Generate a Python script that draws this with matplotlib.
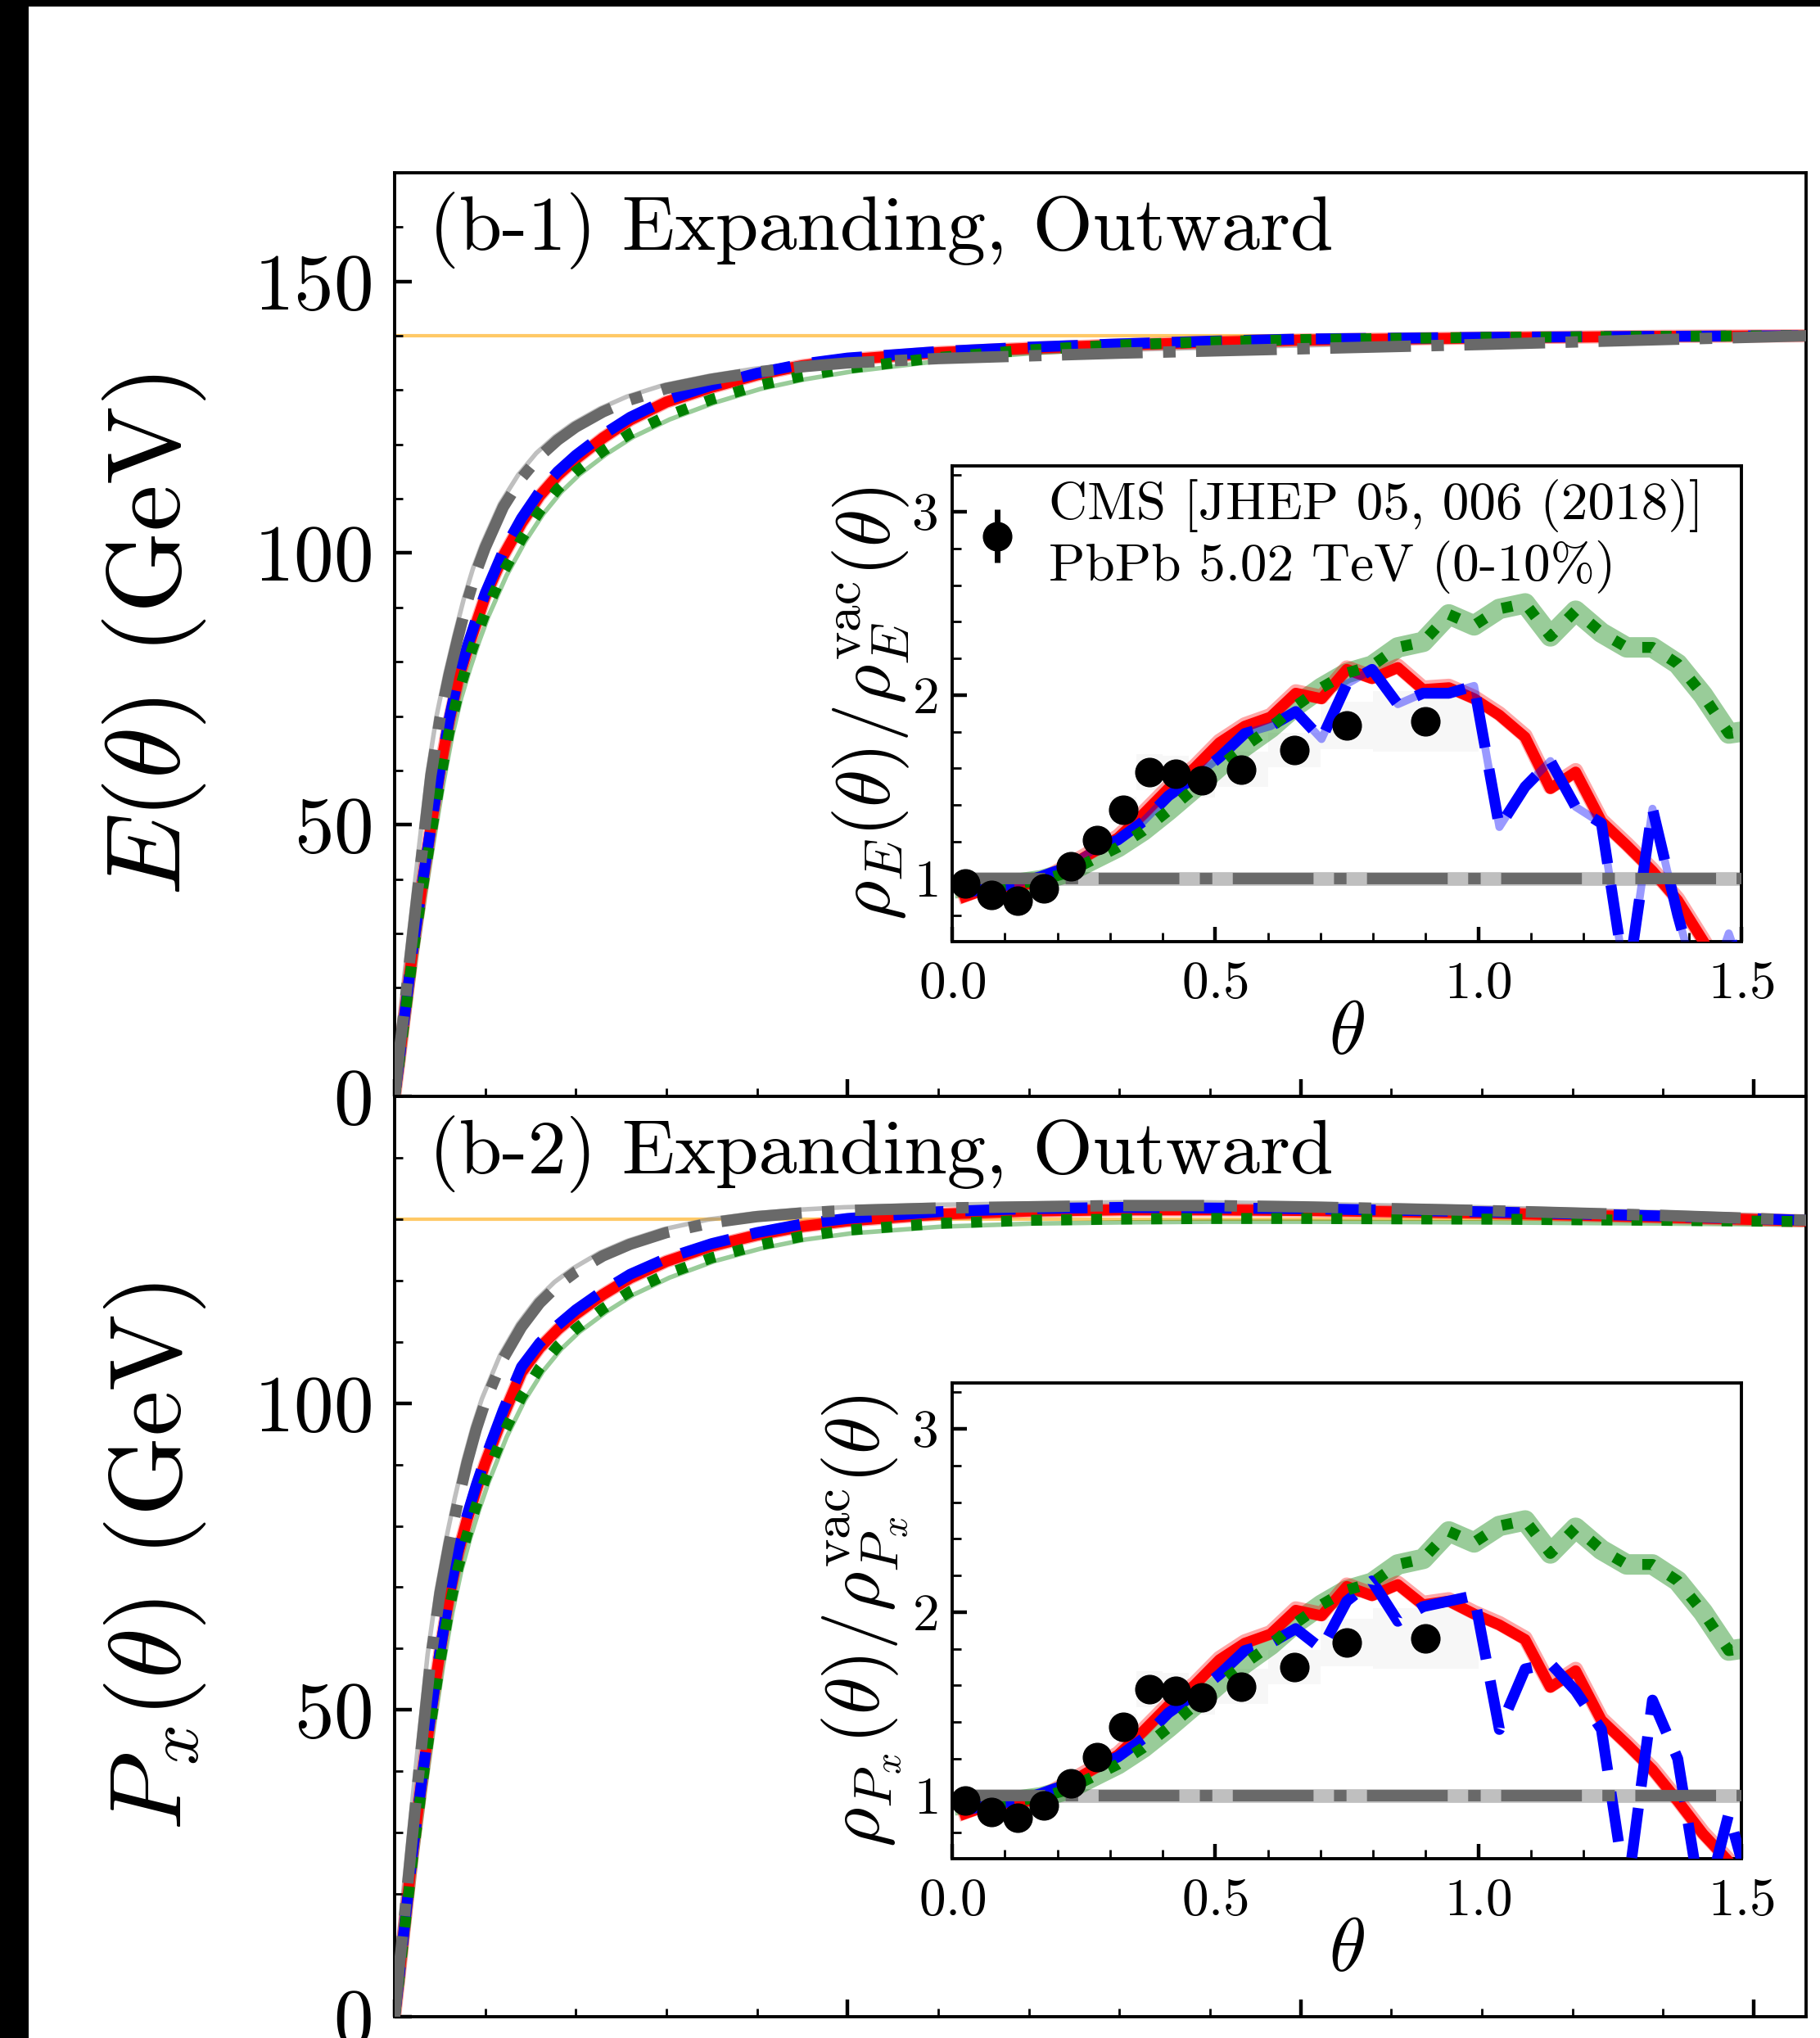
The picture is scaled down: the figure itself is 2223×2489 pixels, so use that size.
import matplotlib
matplotlib.use("Agg")
import matplotlib.pyplot as plt
import matplotlib.transforms as mtrans
from matplotlib.patches import Rectangle
from matplotlib.ticker import MultipleLocator, FixedLocator

plt.rcParams.update({
    "font.family": "serif",
    "font.serif": ["cmr10"],
    "mathtext.fontset": "cm",
    "axes.unicode_minus": False,
    "axes.formatter.use_mathtext": True,
})

# ---------------- data: cumulative distributions (main panels) ----------------
theta_main = [0.0, 0.005, 0.01, 0.02, 0.03, 0.04, 0.05, 0.06, 0.07, 0.08, 0.09, 0.10,
              0.12, 0.14, 0.16, 0.18, 0.20, 0.23, 0.26, 0.30, 0.35, 0.40, 0.45, 0.50,
              0.60, 0.70, 0.80, 0.90, 1.00, 1.20, 1.40, 1.56]

E_red = [0, 6.5, 13.5, 27, 38.5, 49.5, 60, 69, 76.5, 82, 87, 92, 99.5, 105.5, 110.5, 114.3,
         117.3, 121.2, 124.5, 127.8, 130.5, 132.8, 134.5, 135.6, 136.9, 137.7, 138.3, 138.8,
         139.2, 139.6, 139.9, 140.0]
E_blue = [0, 6.5, 13.5, 27, 38.5, 49.5, 60, 69.3, 77, 82.7, 87.8, 92.6, 100.4, 106.4, 111.3,
          115, 118, 121.8, 125, 128.2, 130.9, 133.1, 134.8, 135.9, 137.1, 137.9, 138.5, 139,
          139.4, 139.7, 139.9, 140.0]
E_green = [0, 6.3, 13, 26, 37.5, 48, 58, 67, 74, 79.5, 84.5, 89, 96.5, 102.6, 107.7, 111.8,
           115, 118.8, 122, 125.2, 128.3, 130.8, 132.6, 134, 136, 137.4, 138.3, 138.9, 139.3,
           139.7, 139.9, 140.0]
E_gray = [0, 8, 15, 30, 44.5, 59, 69.5, 77.5, 84.5, 91, 96.5, 101, 108.5, 113.8, 117.8, 120.8,
          123.2, 126, 128.2, 130.3, 132, 133.3, 134.3, 135, 135.8, 136.3, 136.8, 137.2, 137.6,
          138.4, 139.3, 140.0]
E_total = 140

Px_red = [0, 6.5, 13.5, 27, 38.5, 49.5, 59.5, 68.3, 75.5, 81, 85.8, 90.2, 98, 105, 109, 112,
          114.5, 117.7, 120.4, 123.1, 125.6, 127.4, 128.8, 129.7, 130.8, 131.3, 131.5, 131.5,
          131.4, 131.0, 130.3, 129.7]
Px_blue = [0, 6.5, 13.5, 27, 38.5, 49.5, 59.5, 68.6, 76, 81.7, 86.6, 91, 98.9, 105.9, 109.8,
           112.7, 115.2, 118.3, 121, 123.6, 126, 127.8, 129.2, 130.1, 131.2, 131.7, 131.9, 131.8,
           131.7, 131.2, 130.5, 129.8]
Px_green = [0, 6.3, 13, 26, 37.5, 48, 57.8, 66.3, 73.2, 78.6, 83.3, 87.6, 95, 101, 105.7, 109.3,
            112.1, 115.4, 118.2, 121, 123.7, 125.7, 127.2, 128.2, 129.3, 129.8, 130, 130.1, 130.1,
            130, 129.8, 129.6]
Px_gray = [0, 8, 15, 30, 44.5, 58.5, 69, 77, 84, 90.3, 95.7, 100.2, 107.3, 112.4, 116.3, 119.2,
           121.4, 124, 125.9, 127.8, 129.4, 130.4, 131, 131.4, 131.8, 132, 132.2, 132.2, 132,
           131.4, 130.6, 129.8]
Px_total = 130

# ---------------- data: ratios to vacuum (insets) ----------------
theta_ratio = [0.024, 0.073, 0.121, 0.169, 0.218, 0.266, 0.315, 0.363, 0.411, 0.460, 0.508,
               0.556, 0.605, 0.653, 0.702, 0.750, 0.798, 0.847, 0.895, 0.944, 0.992, 1.040,
               1.089, 1.137, 1.185, 1.234, 1.282, 1.331, 1.379, 1.427, 1.476, 1.524]

rE_red = [0.90, 0.95, 0.96, 0.98, 1.06, 1.14, 1.22, 1.35, 1.49, 1.60, 1.74, 1.83, 1.88, 2.01,
          1.98, 2.14, 2.09, 2.15, 2.03, 2.04, 1.98, 1.89, 1.77, 1.49, 1.58, 1.31, 1.18, 1.04,
          0.88, 0.66, 0.42, 0.20]
rE_blue = [0.92, 0.95, 0.97, 1.01, 1.06, 1.15, 1.21, 1.31, 1.45, 1.55, 1.66, 1.79, 1.83, 1.91,
           1.76, 2.06, 2.14, 1.95, 2.01, 2.01, 2.05, 1.28, 1.50, 1.64, 1.39, 1.30, 0.40, 1.38,
           0.80, 0.30, 0.70, 0.30]
rE_green = [0.95, 0.96, 0.97, 0.99, 1.03, 1.10, 1.17, 1.26, 1.37, 1.49, 1.61, 1.72, 1.82, 1.94,
            2.04, 2.12, 2.16, 2.26, 2.29, 2.44, 2.38, 2.47, 2.50, 2.32, 2.46, 2.34, 2.26, 2.26,
            2.17, 2.00, 1.79, 1.81]
r_vac = [1.0, 1.0, 1.0, 1.0, 1.0, 1.0, 1.0, 1.0, 1.0, 1.0, 1.0, 1.0, 1.0, 1.0, 1.0, 1.0,
         1.0, 1.0, 1.0, 1.0, 1.0, 1.0, 1.0, 1.0, 1.0, 1.0, 1.0, 1.0, 1.0, 1.0, 1.0, 1.0]

rP_red = [0.90, 0.95, 0.96, 0.98, 1.06, 1.14, 1.22, 1.35, 1.49, 1.60, 1.74, 1.83, 1.88, 2.01,
          1.98, 2.14, 2.09, 2.15, 2.04, 2.06, 1.99, 1.93, 1.85, 1.59, 1.68, 1.41, 1.28, 1.14,
          0.97, 0.79, 0.64, 0.50]
rP_blue = [0.92, 0.95, 0.97, 1.01, 1.06, 1.15, 1.21, 1.31, 1.45, 1.55, 1.66, 1.79, 1.83, 1.91,
           1.80, 2.06, 2.17, 1.95, 2.03, 2.06, 2.09, 1.36, 1.69, 1.72, 1.57, 1.36, 0.45, 1.52,
           1.20, 0.35, 0.90, 0.40]
rP_green = rE_green

# CMS data
cms_theta = [0.025, 0.075, 0.125, 0.175, 0.225, 0.275, 0.325, 0.375, 0.425, 0.475, 0.55,
             0.65, 0.75, 0.90]
cms_width = [0.05, 0.05, 0.05, 0.05, 0.05, 0.05, 0.05, 0.05, 0.05, 0.05, 0.1, 0.1, 0.1, 0.2]
cms_ratio = [0.97, 0.91, 0.88, 0.945, 1.065, 1.21, 1.375, 1.58, 1.57, 1.535, 1.595, 1.70,
             1.835, 1.855]
cms_stat = [0.01, 0.01, 0.01, 0.02, 0.02, 0.03, 0.04, 0.05, 0.05, 0.05, 0.04, 0.05, 0.06, 0.07]
cms_sys = [0.02, 0.02, 0.03, 0.03, 0.04, 0.05, 0.07, 0.10, 0.10, 0.095, 0.095, 0.095, 0.13,
           0.165]

panel_titles = ["(b-1) Expanding, Outward", "(b-2) Expanding, Outward"]
main_ylabels = [r"$E(\theta)$ (GeV)", r"$P_x(\theta)$ (GeV)"]
inset_ylabels = [r"$\rho_E(\theta)/\rho_E^{\rm vac}(\theta)$",
                 r"$\rho_{P_x}(\theta)/\rho_{P_x}^{\rm vac}(\theta)$"]
legend_label = "CMS [JHEP 05, 006 (2018)]\nPbPb 5.02 TeV (0-10%)"

# ---------------- figure ----------------
W, H = 2223, 2489
fig = plt.figure(figsize=(W / 100, H / 100), dpi=100)

def rect(l, t, r, b):
    return [l / W, 1 - b / H, (r - l) / W, (b - t) / H]

ax1 = fig.add_axes(rect(482, 211, 2206, 1339))
ax2 = fig.add_axes(rect(482, 1339, 2206, 2463))
in1 = fig.add_axes(rect(1163, 569, 2127, 1150))
in2 = fig.add_axes(rect(1163, 1689, 2127, 2270))

# black frame strips at the left and top edge (part of the original picture)
fig.add_artist(Rectangle((0, 0), 35 / W, 1, transform=fig.transFigure,
                         facecolor="black", edgecolor="none", zorder=100))
fig.add_artist(Rectangle((0, 1 - 8 / H), 1, 8 / H, transform=fig.transFigure,
                         facecolor="black", edgecolor="none", zorder=100))

LW = 9.6
BLUE_DASH = (4.6, 2.0)
GREEN_DOT = (1.0, 1.75)
GRAY_DD = (7.1, 1.8, 1.1, 1.8)


def off(ax, dx, dy):
    return ax.transData + mtrans.ScaledTranslation(dx / 100, dy / 100, fig.dpi_scale_trans)


def style_axes(ax, length_major=15, length_minor=7.5):
    for s in ax.spines.values():
        s.set_linewidth(2.8)
    ax.tick_params(which="both", direction="in", top=False, right=False)
    ax.tick_params(which="major", length=length_major, width=3.2)
    ax.tick_params(which="minor", length=length_minor, width=2.0)


def draw_main(ax, red, blue, green, gray, ref, title, ylabel, ymax, yticks, ylabel_size):
    ax.axhline(ref, color="orange", alpha=0.6, lw=3, zorder=1)
    ax.plot(theta_main, gray, color="gray", alpha=0.5, lw=4, transform=off(ax, -4, 4), zorder=1.5)
    ax.plot(theta_main, green, color="green", alpha=0.4, lw=4, transform=off(ax, 4, -4), zorder=1.5)
    ax.plot(theta_main, red, color="red", alpha=0.35, lw=LW + 2, zorder=2)
    ax.plot(theta_main, red, color="red", lw=LW, zorder=3)
    ax.plot(theta_main, blue, color="blue", lw=LW, dashes=BLUE_DASH, zorder=4)
    ax.plot(theta_main, green, color="green", lw=LW, dashes=GREEN_DOT, zorder=5)
    ax.plot(theta_main, gray, color="dimgray", lw=10, dashes=GRAY_DD, zorder=6)
    ax.set_xlim(0, 1.558)
    ax.set_ylim(0, ymax)
    ax.xaxis.set_major_locator(MultipleLocator(0.5))
    ax.xaxis.set_minor_locator(MultipleLocator(0.1))
    ax.yaxis.set_major_locator(FixedLocator(yticks))
    ax.yaxis.set_minor_locator(MultipleLocator(10))
    style_axes(ax)
    ax.tick_params(axis="y", labelsize=70, pad=20)
    ax.tick_params(axis="x", labelbottom=False)
    ax.text(0.0244, 0.979, title, transform=ax.transAxes, fontsize=68, va="top", ha="left")
    ax.set_ylabel(ylabel, fontsize=ylabel_size)
    ax.yaxis.set_label_coords(-0.132, 0.5)


def draw_inset(ax, red, blue, green, ylabel, blue_band, legend):
    ax.bar(cms_theta, [2 * s for s in cms_sys], bottom=[r - s for r, s in zip(cms_ratio, cms_sys)],
           width=cms_width, color="#f7f7f7", edgecolor="none", zorder=0.5)
    ax.plot(theta_ratio, r_vac, color="gray", alpha=0.5, lw=12, zorder=1)
    ax.plot(theta_ratio, green, color="green", alpha=0.4, lw=18, zorder=1.2)
    ax.plot(theta_ratio, red, color="red", alpha=0.35, lw=13, transform=off(ax, 0, 2), zorder=1.4)
    ax.plot(theta_ratio, red, color="red", lw=LW, zorder=3)
    if blue_band:
        ax.plot(theta_ratio, blue, color="blue", alpha=0.4, lw=7, zorder=3.5)
    ax.plot(theta_ratio, blue, color="blue", lw=LW, dashes=BLUE_DASH, zorder=4)
    ax.plot(theta_ratio, green, color="green", lw=LW, dashes=GREEN_DOT, zorder=5)
    ax.plot(theta_ratio, r_vac, color="dimgray", lw=10, dashes=GRAY_DD, zorder=6)
    eb = ax.errorbar(cms_theta, cms_ratio, yerr=cms_stat, fmt="o", color="black", ms=25,
                     elinewidth=5, capsize=0, zorder=10)
    ax.set_xlim(0, 1.5)
    ax.set_ylim(0.655, 3.25)
    ax.xaxis.set_major_locator(MultipleLocator(0.5))
    ax.xaxis.set_minor_locator(MultipleLocator(0.1))
    ax.yaxis.set_major_locator(MultipleLocator(1))
    ax.yaxis.set_minor_locator(MultipleLocator(0.2))
    style_axes(ax, 13, 7.7)
    ax.tick_params(axis="y", labelsize=47, pad=13)
    ax.tick_params(axis="x", labelsize=47, pad=17)
    ax.set_xlabel(r"$\theta$", fontsize=66)
    ax.xaxis.set_label_coords(0.5, -0.126)
    ax.set_ylabel(ylabel, fontsize=67)
    ax.yaxis.set_label_coords(-0.052, 0.5)
    if legend:
        ax.legend([eb], [legend_label], loc="upper left", bbox_to_anchor=(0.0233, 0.972),
                  frameon=False, fontsize=47, handlelength=1.0, handletextpad=0.47,
                  borderaxespad=0, borderpad=0)


draw_main(ax1, E_red, E_blue, E_green, E_gray, E_total, panel_titles[0], main_ylabels[0],
          170, [0, 50, 100, 150], 92)
draw_main(ax2, Px_red, Px_blue, Px_green, Px_gray, Px_total, panel_titles[1], main_ylabels[1],
          150, [0, 50, 100], 90)
draw_inset(in1, rE_red, rE_blue, rE_green, inset_ylabels[0], True, True)
draw_inset(in2, rP_red, rP_blue, rP_green, inset_ylabels[1], False, False)

fig.savefig("out.png", dpi=100)
